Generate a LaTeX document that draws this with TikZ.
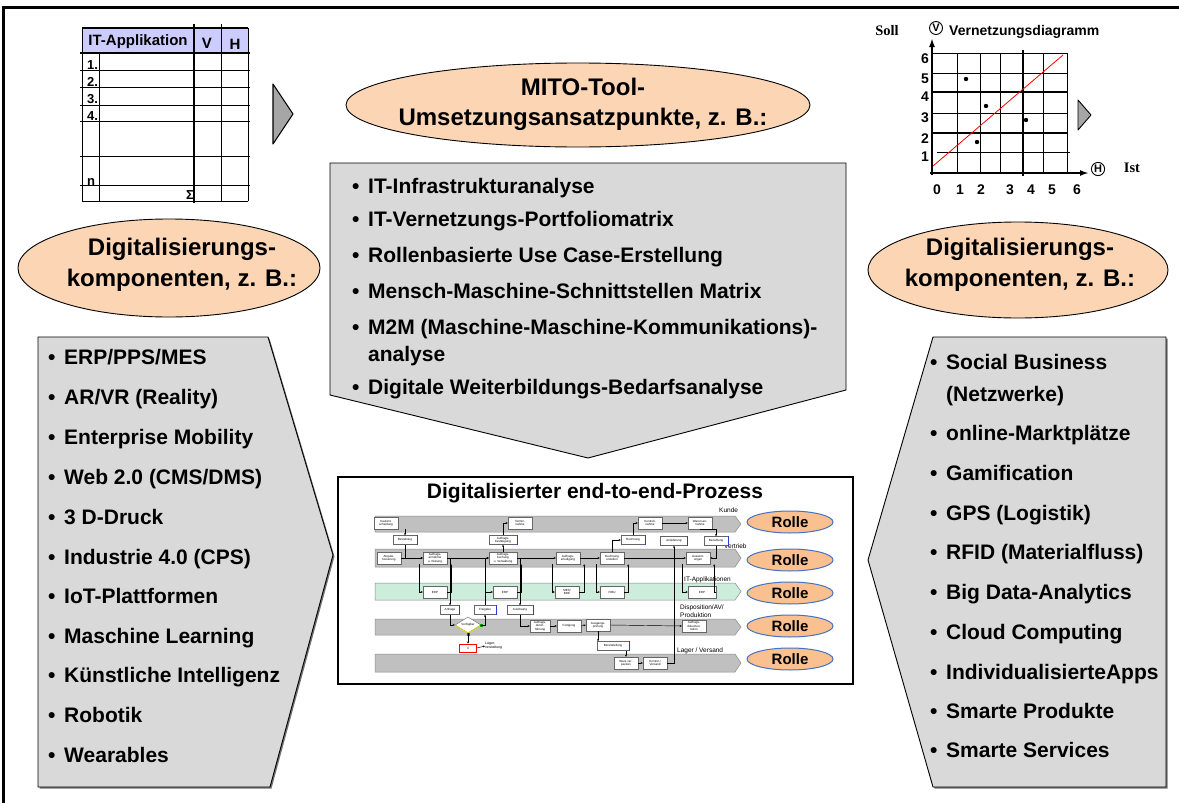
\documentclass[tikz,border=0pt]{standalone}
\usepackage{fontspec}
\setmainfont{Liberation Sans}
\newfontfamily\timesfam{Liberation Serif}
\usetikzlibrary{shapes.geometric,arrows.meta,calc}

\definecolor{peach}{RGB}{252,213,181}
\definecolor{panelgrey}{RGB}{217,217,217}
\definecolor{pointergrey}{RGB}{166,166,166}
\definecolor{headlav}{RGB}{204,204,255}
\definecolor{rollefill}{RGB}{250,192,143}
\definecolor{rolleline}{RGB}{68,114,196}
\definecolor{lanegrey}{RGB}{192,192,192}
\definecolor{lanegreen}{RGB}{204,236,220}
\definecolor{docblue}{RGB}{40,60,220}

\newcommand\itembul{\makebox[16pt][l]{•}}
\newcommand\proclane[3]{\draw[lanestyle, fill=#3] (375,#1) -- (735,#1) -- (741,{(#1+#2)/2}) -- (735,#2) -- (375,#2) -- cycle;}

\begin{document}
\begin{tikzpicture}[x=1pt,y=-1pt,
  bigell/.style={ellipse, draw=black, line width=0.9pt, fill=peach, inner sep=0pt},
  elltext/.style={align=center, inner sep=0pt, font=\fontsize{24}{31}\selectfont\bfseries},
  panel/.style={draw=black, line width=0.9pt, fill=panelgrey, line join=miter},
  panelshadow/.style={fill=black!55},
  pointer/.style={draw=black, line width=1.1pt, fill=pointergrey, line join=round},
  item/.style={anchor=base west, inner sep=0pt, font=\fontsize{21}{25}\selectfont\bfseries},
  tabtext/.style={inner sep=0pt, font=\fontsize{15}{17}\selectfont\bfseries},
  rowno/.style={anchor=base west, inner sep=0pt, font=\fontsize{13}{15}\selectfont\bfseries},
  gridline/.style={line width=0.8pt},
  gridbold/.style={line width=1.6pt},
  axislbl/.style={inner sep=0pt, font=\fontsize{14}{16}\selectfont\bfseries},
  circlbl/.style={circle, draw=black, line width=0.9pt, inner sep=0.8pt, minimum size=13pt, fill=white, font=\fontsize{11}{11}\selectfont\bfseries},
  lanestyle/.style={draw=black!45, line width=0.5pt},
  lanelbl/.style={inner sep=0pt, anchor=base west, font=\fontsize{6.5}{7}\selectfont},
  pbox/.style={draw=black!60, fill=white, line width=0.4pt, inner sep=0.6pt, minimum width=24pt, minimum height=12pt, align=center, font=\fontsize{3}{3.4}\selectfont},
  pdoc/.style={pbox, minimum height=9pt},
  conn/.style={draw=black, line width=0.45pt, -{Stealth[length=2.2pt,width=2pt]}},
  rolle/.style={ellipse, draw=rolleline, line width=1pt, fill=rollefill, minimum width=86pt, minimum height=22pt, inner sep=0pt, font=\fontsize{15}{15}\selectfont\bfseries},
]
\useasboundingbox (0,0) rectangle (1179,803);
\clip (0,0) rectangle (1179,803);
\fill[white] (0,0) rectangle (1179,803);
% outer frame
\draw[line width=3pt] (3,7) rectangle (1210,830);

% ---------- application table ----------
\fill[headlav] (82,28) rectangle (248,53);
\draw[line width=1.4pt] (82,28) -- (248,28);
\draw[line width=1.4pt] (80,53) -- (250,53);
\foreach \y in {70.7,87.7,105,121.7,156,185.7} \draw[line width=1pt] (80,\y) -- (250,\y);
\draw[line width=1pt] (82,201) -- (248,201);
\draw[line width=1pt] (82,28) -- (82,201);
\draw[line width=1pt] (99.3,53) -- (99.3,201);
\draw[line width=1.6pt] (194,24) -- (194,203);
\draw[line width=1pt] (221,24) -- (221,201);
\draw[line width=1pt] (248,28) -- (248,201);
\node[tabtext] (thead) at (138,42) {IT-Applikation};
\node[tabtext] (vhead) at (207,43) {V};
\node[tabtext] (hhead) at (235,44) {H};
\node[rowno] (r1) at (87,69) {1.};
\node[rowno] (r2) at (87,86) {2.};
\node[rowno] (r3) at (87,103) {3.};
\node[rowno] (r4) at (87,120) {4.};
\node[rowno] (rn) at (87,185) {n};
\node[rowno, anchor=base east] (rsum) at (194,199) {Σ};
\draw[pointer] (273,84) -- (293,114) -- (273,144) -- cycle;

% ---------- network diagram ----------
\foreach \x in {957,980,1000,1043,1067} \draw[gridline] (\x,53) -- (\x,173);
\draw[gridbold] (1023,50) -- (1023,176);
\foreach \y in {53,73,113} \draw[gridline] (932,\y) -- (1067,\y);
\foreach \y in {92,133} \draw[gridbold] (932,\y) -- (1067,\y);
\draw[gridline] (937,152) -- (1070,152);
\draw[red, line width=0.8pt] (933,166) -- (1063,55);
\draw[line width=2pt, -{Latex[length=9pt,width=6pt]}] (932,175) -- (932,38);
\draw[line width=2pt, -{Latex[length=9pt,width=6pt]}] (930,173) -- (1089,173);
\node[circlbl] (vcirc) at (936,28) {V};
\node[circlbl] (hcirc) at (1098,169) {H};
\node[inner sep=0pt, font=\fontsize{14.5}{16}\selectfont\timesfam\bfseries] (soll) at (887,31) {Soll};
\node[inner sep=0pt, font=\fontsize{14.5}{16}\selectfont\timesfam\bfseries] (ist) at (1132,168) {Ist};
\node[anchor=west, inner sep=0pt, font=\fontsize{14}{16}\selectfont\bfseries] (vdiag) at (949,32) {Vernetzungsdiagramm};
\foreach \px/\py in {966/79, 986/106, 1026/120, 977/142} \fill (\px,\py) circle (2.2);
\foreach \v/\py in {6/59, 5/79, 4/97, 3/118, 2/139, 1/157} \node[axislbl] at (925,\py) {\v};
\foreach \v/\px in {0/937, 1/960, 2/981, 3/1010, 4/1031, 5/1052, 6/1077} \node[axislbl] at (\px,190) {\v};
\draw[pointer, line width=0.9pt] (1078,100) -- (1091,115) -- (1078,130) -- cycle;

% ---------- central ellipse and measures ----------
\node[bigell, minimum width=464pt, minimum height=84pt] (mito) at (578,105) {};
\node[elltext, font=\fontsize{24}{30}\selectfont\bfseries] (mitotext) at (583,104) {MITO-Tool-\\Umsetzungsansatzpunkte, z. B.:};

\draw[panel] (330,163) -- (846,163) -- (846,390) -- (588,458) -- (330,395) -- cycle;
\node[item] (m1) at (352,193) {\itembul IT-Infrastrukturanalyse};
\node[item] (m2) at (352,226) {\itembul IT-Vernetzungs-Portfoliomatrix};
\node[item] (m3) at (352,262) {\itembul Rollenbasierte Use Case-Erstellung};
\node[item] (m4) at (352,298) {\itembul Mensch-Maschine-Schnittstellen Matrix};
\node[item] (m5) at (352,334) {\itembul M2M (Maschine-Maschine-Kommunikations)-};
\node[item] (m5b) at (368,361) {analyse};
\node[item] (m6) at (352,394) {\itembul Digitale Weiterbildungs-Bedarfsanalyse};

% ---------- side ellipses ----------
\node[bigell, minimum width=302pt, minimum height=98pt] (lell) at (169,268) {};
\node[elltext] (lelltext) at (182,265) {Digitalisierungs-\\komponenten, z. B.:};
\node[bigell, minimum width=300pt, minimum height=96pt] (rell) at (1018,270) {};
\node[elltext] (relltext) at (1020,265) {Digitalisierungs-\\komponenten, z. B.:};

% ---------- left component panel ----------
\fill[panelshadow, shift={(1.5,1.5)}] (38,337) -- (268,337) -- (333,555) -- (270,787) -- (38,787) -- cycle;
\draw[panel] (38,337) -- (268,337) -- (333,555) -- (270,787) -- (38,787) -- cycle;
\node[item] (l1) at (48,364) {\itembul ERP/PPS/MES};
\node[item] (l2) at (48,404) {\itembul AR/VR (Reality)};
\node[item] (l3) at (48,444) {\itembul Enterprise Mobility};
\node[item] (l4) at (48,484) {\itembul Web 2.0 (CMS/DMS)};
\node[item] (l5) at (48,524) {\itembul 3 D-Druck};
\node[item] (l6) at (48,564) {\itembul Industrie 4.0 (CPS)};
\node[item] (l7) at (48,603) {\itembul IoT-Plattformen};
\node[item] (l8) at (48,643) {\itembul Maschine Learning};
\node[item] (l9) at (48,682) {\itembul Künstliche Intelligenz};
\node[item] (l10) at (48,722) {\itembul Robotik};
\node[item] (l11) at (48,762) {\itembul Wearables};

% ---------- right component panel ----------
\fill[panelshadow, shift={(1.5,1.5)}] (933,337) -- (1166,337) -- (1166,787) -- (933,787) -- (868,560) -- cycle;
\draw[panel] (933,337) -- (1166,337) -- (1166,787) -- (933,787) -- (868,560) -- cycle;
\node[item] (q1) at (930,369) {\itembul Social Business};
\node[item] (q1b) at (946,401) {(Netzwerke)};
\node[item] (q2) at (930,440) {\itembul online-Marktplätze};
\node[item] (q3) at (930,480) {\itembul Gamification};
\node[item] (q4) at (930,520) {\itembul GPS (Logistik)};
\node[item] (q5) at (930,559) {\itembul RFID (Materialfluss)};
\node[item] (q6) at (930,599) {\itembul Big Data-Analytics};
\node[item] (q7) at (930,639) {\itembul Cloud Computing};
\node[item] (q8) at (930,679) {\itembul IndividualisierteApps};
\node[item] (q9) at (930,718) {\itembul Smarte Produkte};
\node[item] (q10) at (930,757) {\itembul Smarte Services};

% ---------- end-to-end process ----------
\draw[line width=1.2pt, fill=white] (338,477) rectangle (853,684);
\node[inner sep=0pt, font=\fontsize{21}{23}\selectfont\bfseries] (ptitle) at (595,493) {Digitalisierter end-to-end-Prozess};

\proclane{516}{532}{lanegrey}
\proclane{549}{567}{lanegrey}
\proclane{583}{600}{lanegreen}
\proclane{619}{635}{lanegrey}
\proclane{654}{672}{lanegrey}

\node[lanelbl] (kunde) at (719,512) {Kunde};
\node[lanelbl] (vertrieb) at (724,548) {Vertrieb};
\node[lanelbl] (itapp) at (684,581) {IT-Applikationen};
\node[lanelbl] (dispo) at (680,609) {Disposition/AV/};
\node[lanelbl] (prod) at (680,617) {Produktion};
\node[lanelbl] (lager) at (677,652) {Lager / Versand};

\foreach \ry/\rn in {522/ro1, 560/ro2, 593/ro3, 626/ro4, 659/ro5}
  \node[rolle] (\rn) at (790,\ry) {Rolle};

% customer lane
\node[pbox] (kauf) at (386,523) {Kaufent-\\scheidung};
\node[pbox] (term) at (520,523) {Termin-\\nahme};
\node[pbox] (kontr) at (650,523) {Kontroll-\\nahme};
\node[pbox] (waren) at (700,523) {Waren-an-\\nahme};
% sales lane
\node[pbox] (akq) at (389,558) {Akquisi-\\tionierung};
\node[pbox] (aan) at (435,558) {Auftrags-\\annahme\\u. Klärung};
\node[pbox, minimum width=28pt] (abu) at (503,558) {Auftrags-\\buchung\\u. Verwaltung};
\node[pbox] (aer) at (568,558) {Auftrags-\\erledigung};
\node[pbox] (rech) at (612,558) {Rechnung\\erstellen};
\node[pbox] (ausw) at (698,558) {Auswert-\\ungen};
% IT lane
\node[pbox] (erp1) at (435,592) {ERP};
\node[pbox] (erp2) at (505,592) {ERP};
\node[pbox] (mes) at (567,592) {MES/\\BDE};
\node[pbox] (fibu) at (612,592) {FIBU};
\node[pbox, minimum width=28pt] (erp3) at (702,592) {ERP};
% production lane
\node[diamond, aspect=1.7, draw=black!60, fill=white, line width=0.4pt, inner sep=0.5pt, minimum width=26pt, minimum height=16pt, font=\fontsize{3}{3.4}\selectfont] (verf) at (468,625) {Verfügbar};
\draw[yellow!85!black, line width=1pt] (verf.west) -- (verf.south) -- (verf.east);
\fill[green!60!black] (verf.east) ++(-1.5,-1.5) rectangle ++(3,3);
\fill[red] (verf.south) ++(-1.5,-0.5) rectangle ++(3,3);
\node[pbox, minimum width=20pt] (adf) at (540,626) {Auftrags-\\durch-\\führung};
\node[pbox] (fert) at (569,626) {Fertigung};
\node[pbox] (ausg) at (598,625) {Ausgangs-\\prüfung};
\node[pbox] (adok) at (694,626) {Auftrags-\\dokumen-\\tation};
% warehouse lane
\node[pbox] (wver) at (626,663) {Ware ver-\\packen};
\node[pbox] (kver) at (655,663) {Kontrol./\\Versand};
% documents
\node[pdoc] (best) at (405,540) {Bestellung};
\node[pdoc, minimum width=28pt] (abest) at (503,540) {Auftrags-\\bestätigung};
\node[pdoc] (rechd) at (633,540) {Rechnung};
\node[pdoc, minimum width=27pt] (anl) at (674,541) {Anlieferung};
\node[pdoc] (bez) at (716,541) {Bezahlung};
\node[pdoc, minimum width=19pt] (anf) at (450,610) {Anfrage};
\node[pdoc, minimum width=22pt] (freig) at (485,610) {Freigabe};
\node[pdoc, minimum width=26pt] (ausl) at (520,610) {Auslösung};
\node[pdoc, minimum width=32pt] (bereit) at (613,646) {Bereitstellung};
\foreach \d in {best,abest,rechd,anl,bez,anf,freig,ausl,bereit}
  \draw[docblue, line width=0.9pt] (\d.north east) -- (\d.south east);
\node[pbox, draw=red, line width=0.6pt, minimum width=17pt, minimum height=8pt] (lagerx) at (468,648) {X};
\node[inner sep=0pt, anchor=west, align=left, font=\fontsize{3.5}{3.8}\selectfont] (lvtext) at (485,646) {Lager-\\verwaltung};

% process flow connectors
\draw[conn] (best.north |- kauf.south) -- (best.north);
\draw[conn] (best.south) |- (aan.west);
\draw[conn] (akq.east) -- (aan.west);
\draw[conn] (aan.east) -- (abu.west);
\draw[conn] (abu.east) -- (aer.west);
\draw[conn] (aer.east) -- (rech.west);
\draw[conn] (rech.east) -- (ausw.west);
\foreach \s/\t in {aan/erp1, abu/erp2, aer/mes, rech/fibu, ausw/erp3} {
  \draw[conn] ([xshift=-4pt]\s.south west) |- (\t.west);
  \draw[conn] (\t.east) -| ([xshift=4pt]\s.south east);
}
\draw[conn] (abu.north) -- (abest.south);
\draw[conn] (abest.north) |- (term.west);
\draw[conn] (rech.north) |- (rechd.west);
\draw[conn] (rechd.north) |- (kontr.west);
\draw[conn] (kontr.east) -- (waren.west);
\draw[conn] (waren.south) -| (bez.north);
\draw[conn] (bez.south) |- (ausw.east);
\draw[conn] (kver.east) -| (anl.south);
\draw[conn] (aan.east) -| (anf.north);
\draw[conn] (anf.south) |- (verf.west);
\draw[conn] (verf.east) -| (freig.south);
\draw[conn] (freig.north) |- (abu.west);
\draw[conn] (abu.east) -| (ausl.north);
\draw[conn] (ausl.south) |- (adf.west);
\draw[conn] (adf.east) -- (fert.west);
\draw[conn] (fert.east) -- (ausg.west);
\draw[conn] (ausg.east) -- (adok.west);
\draw[conn] (ausg.south) -- (ausg.south |- bereit.north);
\draw[conn] (bereit.south -| wver.north) -- (wver.north);
\draw[conn] (wver.east) -- (kver.west);
\draw[conn] (verf.south) -- (lagerx.north);
\draw[conn] (lagerx.east) -- (lvtext.west);
\end{tikzpicture}
\end{document}
